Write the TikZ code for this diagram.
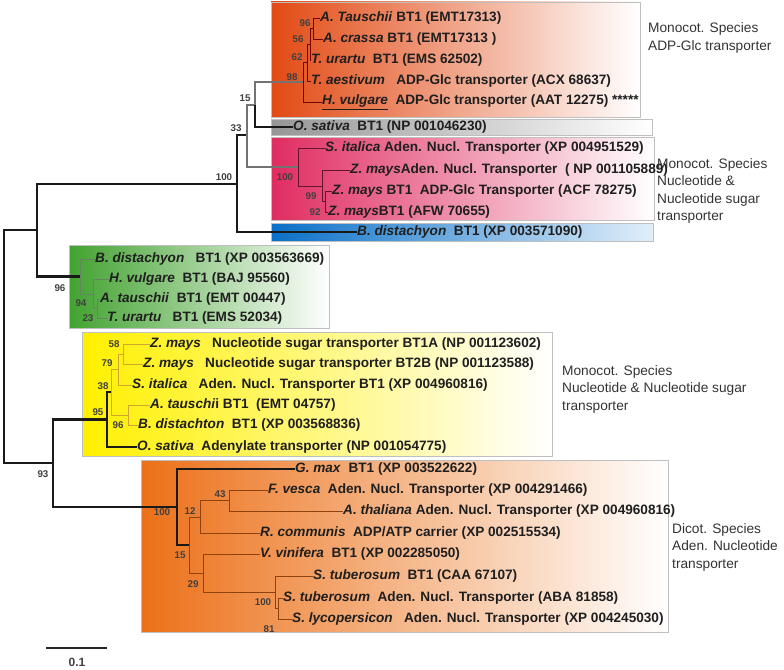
\documentclass[tikz,border=0pt]{standalone}
\usepackage{fontspec}
\setmainfont{Liberation Sans}
\definecolor{adpred}{RGB}{226,74,20}
\definecolor{osgray}{RGB}{150,150,150}
\definecolor{nucpink}{RGB}{224,44,96}
\definecolor{bdblue}{RGB}{10,112,200}
\definecolor{bdlight}{RGB}{225,238,250}
\definecolor{tagreen}{RGB}{66,162,48}
\definecolor{nucyellow}{RGB}{255,240,0}
\definecolor{dicotorange}{RGB}{236,112,24}

\begin{document}
\begin{tikzpicture}[
  x=1pt,y=-1pt,
  clade/.style={draw=black!25,line width=0.7pt},
  leaf/.style={anchor=west,inner sep=0pt,text=black!88,font=\fontsize{13.6}{16}\selectfont\bfseries},
  boot/.style={inner sep=0pt,text=black!75,font=\fontsize{9.8}{11}\selectfont\bfseries},
  group/.style={anchor=west,align=left,inner sep=0pt,text=black!80,font=\fontsize{13.7}{17.5}\selectfont},
  trunk/.style={line width=2.8pt,draw=black!90},
  twig/.style={line width=0.7pt},
  link/.style={line width=1.1pt,draw=black!55}
]
\useasboundingbox (0,0) rectangle (784,669);

\draw[clade,left color=adpred,middle color=adpred!55!white,right color=white] (271,2) rectangle (640,117);
\draw[clade,left color=osgray,right color=white] (271,119) rectangle (652,135);
\draw[clade,left color=nucpink,middle color=nucpink!55!white,right color=white] (271,137) rectangle (654,220);
\draw[clade,left color=bdblue,right color=bdlight] (271,223) rectangle (653,241);
\draw[clade,left color=tagreen,middle color=tagreen!55!white,right color=white] (69,245) rectangle (329,328);
\draw[clade,left color=nucyellow,middle color=nucyellow!60!white,right color=white] (82,332) rectangle (552,456);
\draw[clade,left color=dicotorange,middle color=dicotorange!60!white,right color=white] (141,460) rectangle (668,632);

\node[leaf] (l-atau) at (320,18) {\textit{A. Tauschii} BT1 (EMT17313)};
\node[leaf] (l-acra) at (323,39) {\textit{A. crassa} BT1 (EMT17313 )};
\node[leaf] (l-tura) at (311,60) {\textit{T. urartu}~~BT1 (EMS 62502)};
\node[leaf] (l-taes) at (311,81) {\textit{T. aestivum}~~~ADP-Glc transporter (ACX 68637)};
\node[leaf] (l-hvul) at (322,102) {\underline{\textit{H. vulgare}}~~ADP-Glc transporter (AAT 12275) *****};
\node[leaf] (l-osat) at (293,127) {\textit{O. sativa}~~BT1 (NP 001046230)};
\node[leaf] (l-sita) at (325,148) {\textit{S. italica} Aden. Nucl. Transporter (XP 004951529)};
\node[leaf] (l-zmaa) at (350,170) {\textit{Z. mays}Aden. Nucl. Transporter~~( NP 001105889)};
\node[leaf] (l-zmab) at (332,191) {\textit{Z. mays} BT1~~ADP-Glc Transporter (ACF 78275)};
\node[leaf] (l-zmac) at (328,212) {\textit{Z. mays}BT1 (AFW 70655)};
\node[leaf] (l-bdis) at (357,232) {\textit{B. distachyon}~~BT1 (XP 003571090)};

\node[leaf] (l-gbdi) at (95,259) {\textit{B. distachyon}~~~BT1 (XP 003563669)};
\node[leaf] (l-ghvu) at (109,279) {\textit{H. vulgare}~~BT1 (BAJ 95560)};
\node[leaf] (l-gata) at (100,299) {\textit{A. tauschii}~~BT1 (EMT 00447)};
\node[leaf] (l-gtur) at (107,318) {\textit{T. urartu}~~~BT1 (EMS 52034)};

\node[leaf] (l-yzma) at (150,344) {\textit{Z. mays}~~~Nucleotide sugar transporter BT1A (NP 001123602)};
\node[leaf] (l-yzmb) at (143,364) {\textit{Z. mays}~~~Nucleotide sugar transporter BT2B (NP 001123588)};
\node[leaf] (l-ysit) at (132,385) {\textit{S. italica}~~~Aden. Nucl. Transporter BT1 (XP 004960816)};
\node[leaf] (l-yata) at (150,405) {\textit{A. tauschi}i BT1~~(EMT 04757)};
\node[leaf] (l-ybdi) at (138,425) {\textit{B. distachton}~~BT1 (XP 003568836)};
\node[leaf] (l-yosa) at (137,447) {\textit{O. sativa}~~Adenylate transporter (NP 001054775)};

\node[leaf] (l-gmax) at (295,469) {\textit{G. max}~~BT1 (XP 003522622)};
\node[leaf] (l-fves) at (268,490) {\textit{F. vesca}~~Aden. Nucl. Transporter (XP 004291466)};
\node[leaf] (l-atha) at (343,511) {\textit{A. thaliana} Aden. Nucl. Transporter (XP 004960816)};
\node[leaf] (l-rcom) at (260,533) {\textit{R. communis}~~ADP/ATP carrier (XP 002515534)};
\node[leaf] (l-vvin) at (260,554) {\textit{V. vinifera}~~BT1 (XP 002285050)};
\node[leaf] (l-stua) at (313,576) {\textit{S. tuberosum}~~BT1 (CAA 67107)};
\node[leaf] (l-stub) at (283,598) {\textit{S. tuberosum}~~Aden. Nucl. Transporter (ABA 81858)};
\node[leaf] (l-slyc) at (292,619) {\textit{S. lycopersicon}~~~Aden. Nucl. Transporter (XP 004245030)};

\coordinate (root) at (4,346.5);
\coordinate (mono) at (37,230);
\coordinate (n100) at (237,184);
\coordinate (n33) at (247,135);
\coordinate (n15) at (255,105);
\coordinate (t98) at (303,82);
\coordinate (t62) at (307,62.5);
\coordinate (t56) at (310,44);
\coordinate (t96) at (313,28.5);
\coordinate (p100) at (298,167);
\coordinate (p99) at (322,186);
\coordinate (p92) at (325,201.5);
\coordinate (g96) at (80,276.5);
\coordinate (g94) at (93,294);
\coordinate (g23) at (97,308.5);
\coordinate (n93) at (53,463);
\coordinate (y95) at (107,419.5);
\coordinate (y38) at (111,392);
\coordinate (y79) at (118,369.5);
\coordinate (y58) at (123,354);
\coordinate (y96) at (128,415);
\coordinate (d100) at (177,507);
\coordinate (d15) at (189,545);
\coordinate (d12) at (200,517);
\coordinate (d43) at (229,500.5);
\coordinate (d29) at (203,573);
\coordinate (d100b) at (275,592);
\coordinate (d81) at (278,608.5);

\draw[trunk] (root) |- (mono);
\draw[trunk] (root) |- (n93);
\draw[trunk] (mono) |- (n100);
\draw[trunk] (mono) |- (g96);
\draw[trunk] (n100) |- (n33);
\draw[trunk] (n100) |- (l-bdis.west);
\draw[link] (n33) |- (n15);
\draw[link] (n33) |- (p100);
\draw[link] (n15) |- (t98);
\draw[trunk] (n15) |- (l-osat.west);
\draw[trunk] (n93) |- (y95);
\draw[trunk] (n93) |- (d100);
\draw[trunk] (y95) |- (y38);
\draw[trunk] (y95) |- (l-yosa.west);
\draw[trunk] (d100) |- (l-gmax.west);
\draw[trunk] (d100) |- (d15);

\draw[twig,red!45!black] (t98) |- (t62) (t98) |- (l-hvul.west)
  (t62) |- (t56) (t62) |- (l-taes.west) (t56) |- (t96) (t56) |- (l-tura.west)
  (t96) |- (l-atau.west) (t96) |- (l-acra.west);
\draw[twig,nucpink!45!black] (p100) |- (l-sita.west) (p100) |- (p99)
  (p99) |- (l-zmaa.west) (p99) |- (p92) (p92) |- (l-zmab.west) (p92) |- (l-zmac.west);
\draw[twig,tagreen!50!black!70] (g96) |- (l-gbdi.west) (g96) |- (g94)
  (g94) |- (l-ghvu.west) (g94) |- (g23) (g23) |- (l-gata.west) (g23) |- (l-gtur.west);
\draw[twig,brown!70!yellow] (y38) |- (y79) (y38) |- (y96) (y79) |- (y58)
  (y79) |- (l-ysit.west) (y58) |- (l-yzma.west) (y58) |- (l-yzmb.west)
  (y96) |- (l-yata.west) (y96) |- (l-ybdi.west);
\draw[twig,dicotorange!60!black] (d15) |- (d12) (d15) |- (d29) (d12) |- (d43)
  (d12) |- (l-rcom.west) (d43) |- (l-fves.west) (d43) |- (l-atha.west)
  (d29) |- (l-vvin.west) (d29) |- (d100b) (d100b) |- (l-stua.west)
  (d100b) |- (d81) (d81) |- (l-stub.west) (d81) |- (l-slyc.west);

\node[boot] (b-t96) at (305,23) {96};
\node[boot] (b-t56) at (298,39) {56};
\node[boot] (b-t62) at (297,57) {62};
\node[boot] (b-t98) at (292,77) {98};
\node[boot] (b-n15) at (245,98) {15};
\node[boot] (b-n33) at (236,128) {33};
\node[boot] (b-n100) at (224,177) {100};
\node[boot] (b-p100) at (285,177) {100};
\node[boot] (b-p99) at (311,196) {99};
\node[boot] (b-p92) at (315,212) {92};
\node[boot] (b-g96) at (60,288) {96};
\node[boot] (b-g94) at (81,303) {94};
\node[boot] (b-g23) at (88,318) {23};
\node[boot] (b-y58) at (114,344) {58};
\node[boot] (b-y79) at (107,363) {79};
\node[boot] (b-y38) at (103,386) {38};
\node[boot] (b-y95) at (98,412) {95};
\node[boot] (b-y96) at (118,425) {96};
\node[boot] (b-n93) at (43,474) {93};
\node[boot] (b-d100) at (162,512) {100};
\node[boot] (b-d43) at (220,494) {43};
\node[boot] (b-d12) at (190,511) {12};
\node[boot] (b-d15) at (180,555) {15};
\node[boot] (b-d29) at (193,584) {29};
\node[boot] (b-d100b) at (263,602) {100};
\node[boot] (b-d81) at (269,629) {81};

\node[group] (grp-adp) at (648,38) {Monocot. Species\\ADP-Glc transporter};
\node[group] (grp-nuc) at (657,191) {Monocot. Species\\Nucleotide \&\\Nucleotide sugar\\transporter};
\node[group] (grp-nucy) at (562,389) {Monocot. Species\\Nucleotide \& Nucleotide sugar\\transporter};
\node[group] (grp-dicot) at (672,547) {Dicot. Species\\Aden. Nucleotide\\transporter};

\coordinate (bar-l) at (46,648);
\coordinate (bar-r) at (107,648);
\draw[line width=2pt,black!85] (bar-l) -- (bar-r);
\node[boot,font=\fontsize{12}{14}\selectfont\bfseries] (bar-lab) at (77,662) {0.1};
\end{tikzpicture}
\end{document}
